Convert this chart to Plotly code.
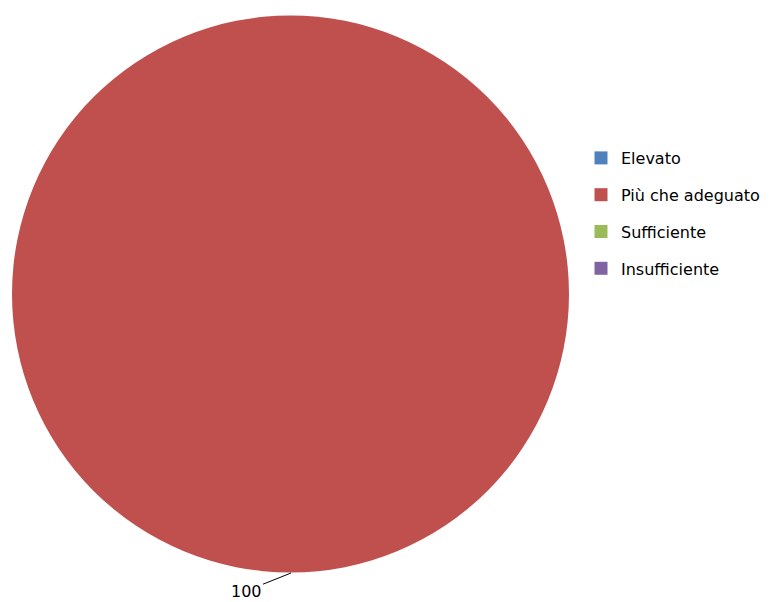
import plotly.graph_objects as go

labels = ["Elevato", "Più che adeguato", "Sufficiente", "Insufficiente"]
values = [0, 100, 0, 0]
colors = ["#4F81BD", "#C0504D", "#9BBB59", "#8064A2"]

# page body adds an 8px margin, so the figure is drawn 8px smaller/shifted
W, H = 765, 594
OFF = 8


def px(x):
    return (x - OFF) / W


def py(y):
    return 1 - (y - OFF) / H


fig = go.Figure()
fig.add_trace(go.Pie(
    labels=labels, values=values,
    marker=dict(colors=colors, line=dict(width=0)),
    textinfo="none", hoverinfo="label+value",
    sort=False, direction="clockwise", rotation=0,
    showlegend=False,
    domain=dict(x=[px(12), px(569)], y=[py(573), py(15)]),
))

# legend entries (one group per category for spacing control)
for i, (lab, col) in enumerate(zip(labels, colors)):
    fig.add_trace(go.Scatter(
        x=[None], y=[None], mode="markers", name=lab,
        marker=dict(symbol="square", size=13, color=col),
        legendgroup=f"g{i}", showlegend=True, hoverinfo="skip",
    ))

# data label for the non-zero slice
idx = values.index(max(values))
fig.add_annotation(
    x=px(291), y=py(573), xref="paper", yref="paper",
    text=str(values[idx]), showarrow=True, arrowhead=0, arrowwidth=1,
    arrowcolor="#000000", ax=-45, ay=18, standoff=0,
    font=dict(family="DejaVu Sans", size=16, color="#000000"),
)

fig.update_layout(
    width=W, height=H,
    margin=dict(l=0, r=0, t=0, b=0),
    paper_bgcolor="white", plot_bgcolor="white",
    xaxis=dict(visible=False), yaxis=dict(visible=False),
    showlegend=True,
    legend=dict(
        x=px(581), y=py(141), xanchor="left", yanchor="top",
        font=dict(family="DejaVu Sans", size=16, color="#000000"),
        tracegroupgap=13, bgcolor="rgba(0,0,0,0)",
    ),
)
fig.write_html("out.html")
